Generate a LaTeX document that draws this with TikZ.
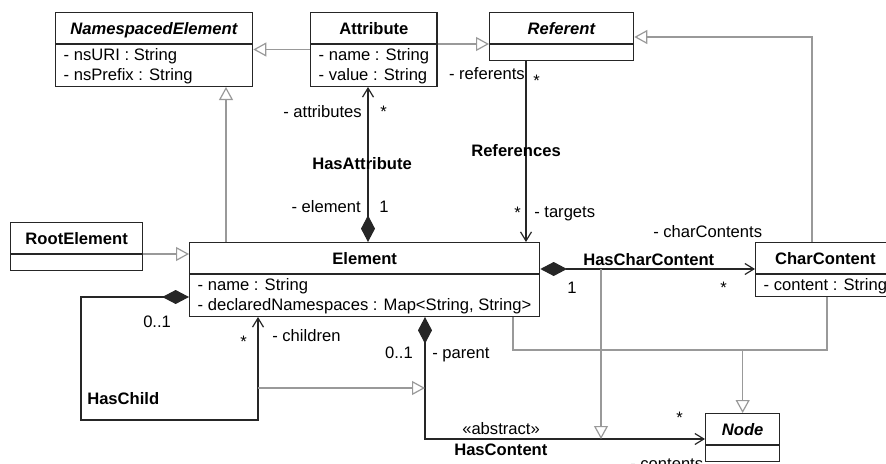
\documentclass[tikz,border=0pt]{standalone}
\usepackage{fontspec}
\setmainfont{Liberation Sans}
\usetikzlibrary{arrows.meta, shapes.multipart}
\newcommand{\clshead}{\rule[-6.75pt]{0pt}{22.5pt}}
\newcommand{\attrtop}{\rule{0pt}{12pt}}
\newcommand{\attrbot}{\rule[-3.75pt]{0pt}{3.75pt}}
\newcommand{\attrone}{\rule[-3.75pt]{0pt}{15.75pt}}
\newcommand{\attrnone}{\rule{0pt}{11.25pt}}

\begin{document}
\begin{tikzpicture}
    [
        x=0.75pt, y=-0.75pt,
        font=\fontsize{12.45}{15}\selectfont,
        cls/.style={rectangle split, rectangle split parts=2, draw=black!85, line width=1pt, fill=white,
            inner xsep=6pt, inner ysep=0pt, align=left, anchor=north west,
            rectangle split part align={center,left}},
        assoc/.style={draw=black!85, line width=0.9pt},
        comp/.style={assoc, {Diamond[length=20pt,width=10.5pt]}-{Straight Barb[length=6.75pt,width=8.25pt]}},
        nav/.style={assoc, -{Straight Barb[length=6.75pt,width=8.25pt]}},
        gen/.style={draw=black!40, line width=0.9pt, -{Triangle[open,length=9.75pt,width=10.5pt]}},
        lbl/.style={inner sep=0pt},
        assocname/.style={lbl, font=\fontsize{12.45}{15}\selectfont\bfseries},
    ]
    \useasboundingbox (0,0) rectangle (886,464);

    % classes
    \node[cls, minimum width=147.75pt] (NE) at (55,12)
        {\clshead\textbf{\textit{NamespacedElement}}\nodepart{second}\attrtop- nsURI : String\\\attrbot- nsPrefix : String};
    \node[cls, minimum width=94.5pt] (Attr) at (310,12)
        {\clshead\textbf{Attribute}\nodepart{second}\attrtop- name : String\\\attrbot- value : String};
    \node[cls, minimum width=108pt] (Ref) at (489,12)
        {\clshead\textbf{\textit{Referent}}\nodepart{second}\attrnone};
    \node[cls, minimum width=99pt] (Root) at (10,222)
        {\clshead\textbf{RootElement}\nodepart{second}\attrnone};
    \node[cls, minimum width=262.5pt] (Elem) at (189,242)
        {\clshead\textbf{Element}\nodepart{second}\attrtop- name : String\\\attrbot- declaredNamespaces : Map<String, String>};
    \node[cls, minimum width=101.25pt] (CharC) at (755,242)
        {\clshead\textbf{CharContent}\nodepart{second}\attrone- content : String};
    \node[cls, minimum width=55.5pt] (Node) at (705,413)
        {\clshead\textbf{\textit{Node}}\nodepart{second}\attrnone};

    % generalizations
    \draw[gen] (Attr.west) -- (NE.east);
    \draw[gen] (Attr.text split east) -- (Ref.text split west);
    \draw[gen] (Elem.north -| 226,0) -- (NE.south -| 226,0);
    \draw[gen] (Root.east |- 0,254) -- (Elem.west |- 0,254);
    \draw[gen] (CharC.north -| 812,0) |- (Ref.east |- 0,37);
    \draw[gen] (Elem.south -| 513,0) |- (Node.north |- 0,350) -- (Node.north);
    \draw[gen, -] (CharC.south -| 827,0) |- (Node.north |- 0,350);

    % associations
    \draw[comp] (Elem.north -| 368,0) -- (Attr.south -| 368,0);
    \draw[nav] (Ref.south -| 526,0) -- (Elem.north -| 526,0);
    \draw[comp] (Elem.east |- 0,269) -- (CharC.west |- 0,269);
    \draw[comp] (Elem.west |- 0,297) -| (81,420) -| (Elem.south -| 258,0);
    \draw[comp] (Elem.south -| 425,0) |- (Node.west |- 0,439);

    % association classes
    \coordinate (HCCmid) at (601,269);
    \coordinate (HCmid) at (601,439);
    \draw[gen] (HCCmid) -- (HCmid);
    \coordinate (HChmid) at (258,388);
    \coordinate (HCleft) at (425,388);
    \draw[gen] (HChmid) -- (HCleft);

    % role names and multiplicities
    \node[lbl, anchor=base east] (attrRole) at (362,117) {- attributes};
    \node[lbl, anchor=base west] (attrMul) at (380,117) {*};
    \node[assocname, anchor=base west] (HasAttr) at (312,169) {HasAttribute};
    \node[lbl, anchor=base east] (elemRole) at (361,212) {- element};
    \node[lbl, anchor=base west] (elemMul) at (379,212) {1};

    \node[lbl, anchor=base east] (refRole) at (525,79) {- referents};
    \node[lbl, anchor=base west] (refMul) at (533,86) {*};
    \node[assocname, anchor=base west] (Refs) at (471,156) {References};
    \node[lbl, anchor=base east] (tgtMul) at (521,218) {*};
    \node[lbl, anchor=base west] (tgtRole) at (534,217) {- targets};

    \node[lbl, anchor=base west] (ccRole) at (653,237) {- charContents};
    \node[assocname, anchor=base west] (HasCC) at (583,265) {HasCharContent};
    \node[lbl, anchor=base west] (ccOwnMul) at (567,293) {1};
    \node[lbl, anchor=base west] (ccMul) at (720,293) {*};

    \node[lbl, anchor=base west] (chOwnMul) at (143,327) {0..1};
    \node[lbl, anchor=base west] (chMul) at (240,347) {*};
    \node[lbl, anchor=base west] (chRole) at (272,341) {- children};
    \node[assocname, anchor=base west] (HasCh) at (87,404) {HasChild};

    \node[lbl, anchor=base east] (parMul) at (413,358) {0..1};
    \node[lbl, anchor=base west] (parRole) at (432,358) {- parent};
    \node[lbl, anchor=base west] (abstr) at (462,434) {«abstract»};
    \node[assocname, anchor=base west] (HasCon) at (454,455) {HasContent};
    \node[lbl, anchor=base west] (conMul) at (676,423) {*};
    \node[lbl, anchor=base west] (conRole) at (630,469) {- contents};
\end{tikzpicture}
\end{document}
